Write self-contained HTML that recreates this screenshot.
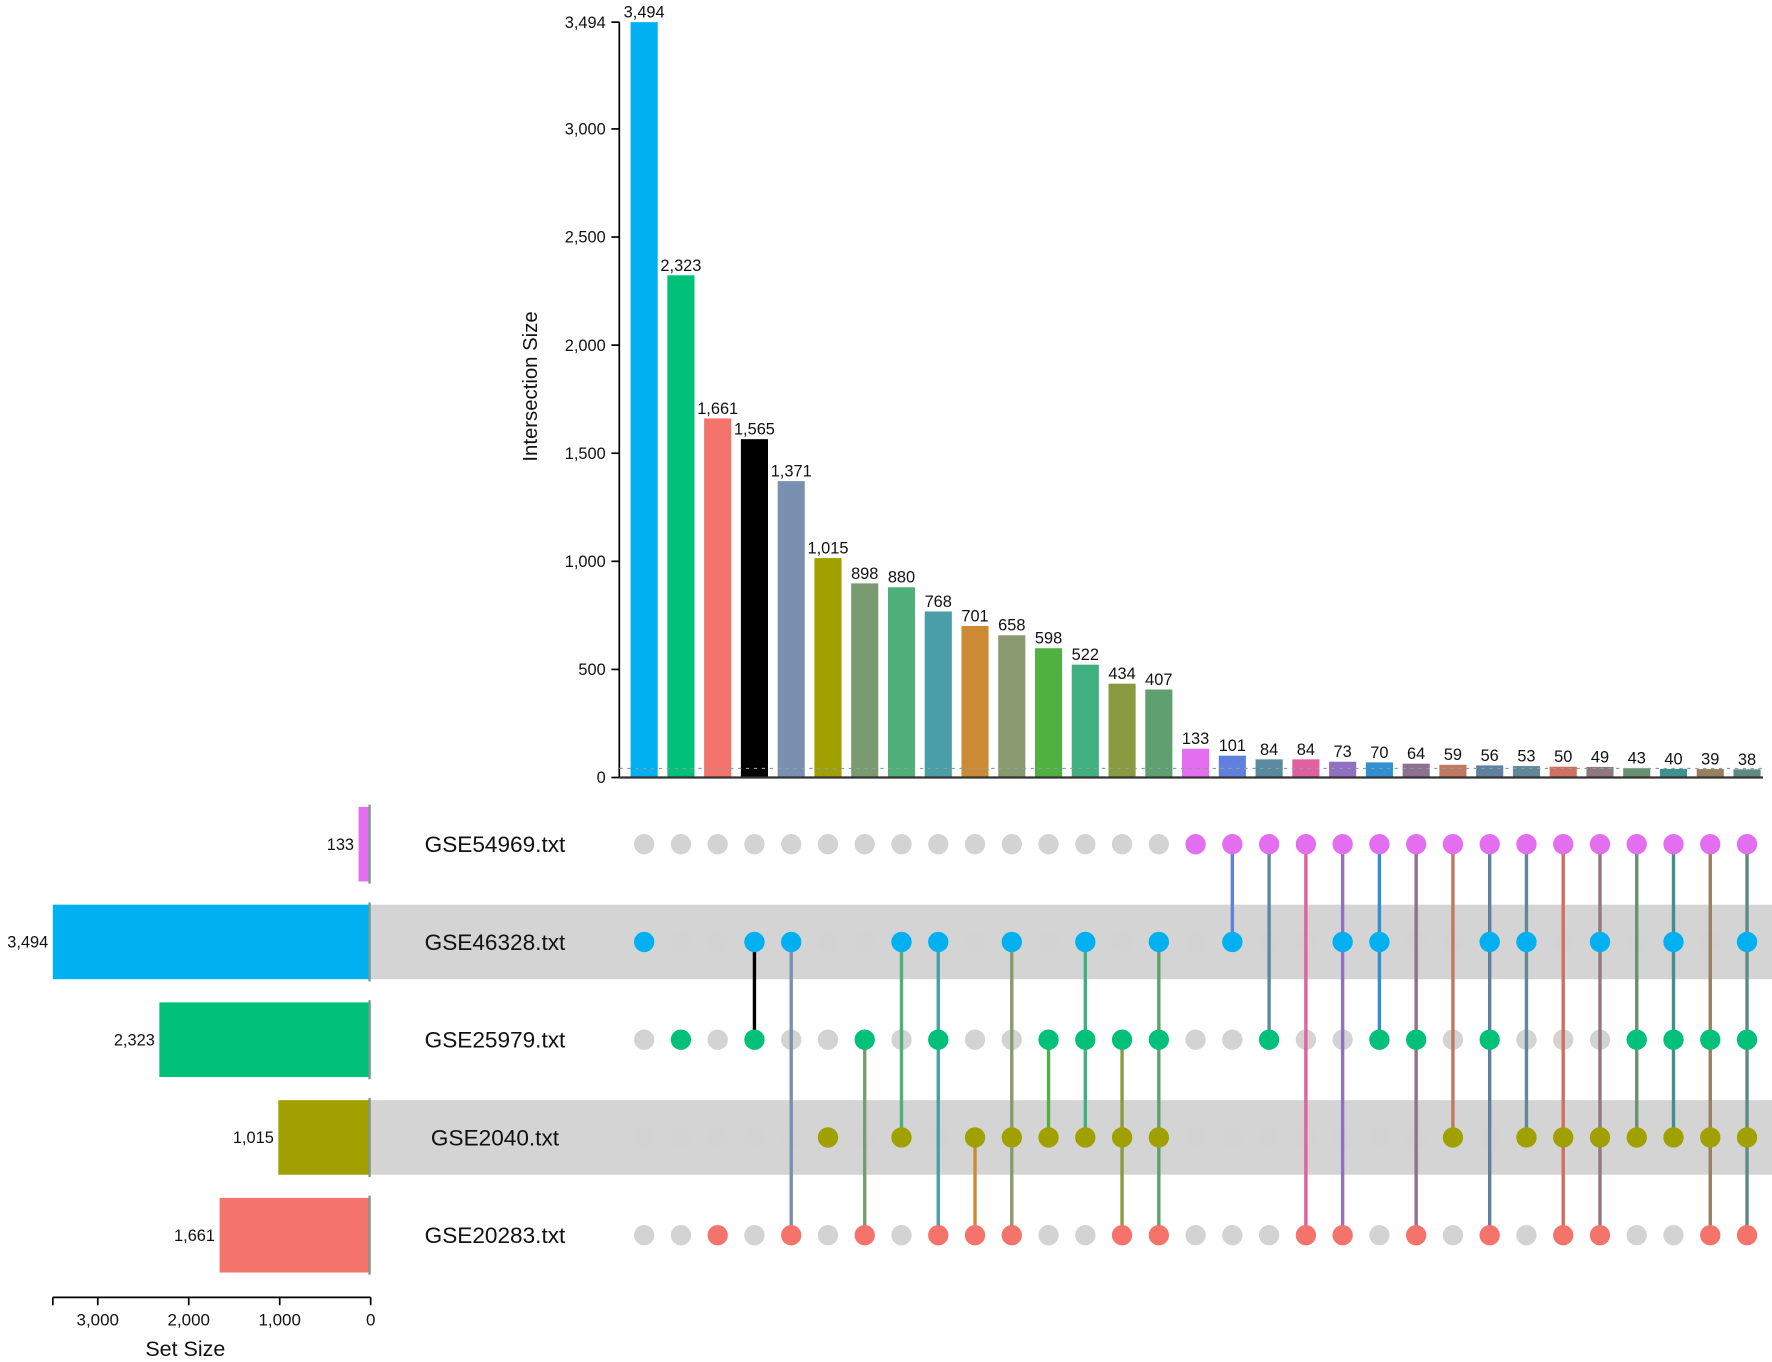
<!DOCTYPE html>
<html><head><meta charset="utf-8"><style>
html,body{margin:0;padding:0;background:#fff;}
svg{display:block;font-family:"Liberation Sans",Arial,sans-serif;}
</style></head><body>
<svg id="chart" width="1772" height="1362" viewBox="0 0 1568 1205.2" xmlns="http://www.w3.org/2000/svg"></svg>
<script>
const setNames = ["GSE54969.txt","GSE46328.txt","GSE25979.txt","GSE2040.txt","GSE20283.txt"];
const setSizes = [133,3494,2323,1015,1661];
const setColors = ["#e36ef0","#00b0f0","#00c07a","#a0a000","#f4736a"];
const interSizes = [3494,2323,1661,1565,1371,1015,898,880,768,701,658,598,522,434,407,133,101,84,84,73,70,64,59,56,53,50,49,43,40,39,38];
const interSets = [[1],[2],[4],[1,2],[1,4],[3],[2,4],[1,3],[1,2,4],[3,4],[1,3,4],[2,3],[1,2,3],[2,3,4],[1,2,3,4],
 [0],[0,1],[0,2],[0,4],[0,1,4],[0,1,2],[0,2,4],[0,3],[0,1,2,4],[0,1,3],[0,3,4],[0,1,3,4],[0,2,3],[0,1,2,3],[0,2,3,4],[0,1,2,3,4]];
const interColors = ["#00b0f0","#00c07a","#f4736a","#000000","#7a90b0","#a0a000","#7a9a70","#4fb07a","#4a9ea8","#cc8a35","#8a9a70","#50b040","#40b080","#8a9a40","#60a070",
 "#e36ef0","#6080e0","#5a8aa0","#e060a0","#9070c0","#3090d0","#907090","#c07860","#6080a0","#608898","#d07060","#907880","#6a9070","#409090","#958060","#608a80"];
const yTicks = [0,500,1000,1500,2000,2500,3000,3494];
const xTicks = [3000,2000,1000,0];

const svg = document.getElementById('chart');
const NS = "http://www.w3.org/2000/svg";
function mk(tag, attrs, parent){const e=document.createElementNS(NS,tag);for(const k in attrs)e.setAttribute(k,attrs[k]);(parent||svg).appendChild(e);return e;}
const fmt = v => v.toLocaleString('en-US');
const yScale = v => 688 - v*0.1913;
const xCol = i => 570 + i*32.53;
const rowY = r => 747 + r*86.5;
const xSet = v => 328 - v*0.0805;

[1,3].forEach(r=>{
  const b = mk('rect',{x:328,y:rowY(r)-33,width:1240,height:66,fill:'#d4d4d4'});
  
  
});

const ya = mk('line',{x1:548,y1:yScale(3494),x2:548,y2:688,stroke:'#000','stroke-width':1.5});


yTicks.forEach(t=>{
  const y=yScale(t);
  mk('line',{x1:541,y1:y,x2:548,y2:y,stroke:'#000','stroke-width':1.5});
  const tx=mk('text',{x:536,y:y+5,'text-anchor':'end','font-size':14.5,fill:'#111'});
  tx.textContent=fmt(t);
  
  
});
const yt = mk('text',{x:475,y:342,'text-anchor':'middle','font-size':18,fill:'#111',transform:'rotate(-90 475 342)'});
yt.textContent='Intersection Size';



interSizes.forEach((v,i)=>{
  const x=xCol(i), y=yScale(v);
  const r=mk('rect',{x:x-12,y:y,width:24,height:688-y,fill:interColors[i]});
  
  
  const t=mk('text',{x:x,y:y-4,'text-anchor':'middle','font-size':14.5,fill:'#111'});
  t.textContent=fmt(v);
  
  
});
mk('line',{x1:548,y1:680,x2:1560,y2:680,stroke:'#8aa0a0','stroke-width':1,'stroke-dasharray':'3,4'});
const xa = mk('line',{x1:548,y1:688,x2:1560,y2:688,stroke:'#333','stroke-width':2});



// empty dots first
interSets.forEach((sets,i)=>{
  const x=xCol(i);
  for(let r=0;r<5;r++){
    if(sets.includes(r)) continue;
    const c=mk('circle',{cx:x,cy:rowY(r),r:9,fill:'#d3d3d3'});
    
    
  }
});
// connectors
interSets.forEach((sets,i)=>{
  const x=xCol(i);
  const mn=Math.min(...sets), mx=Math.max(...sets);
  if(sets.length>1){
    const l=mk('line',{x1:x,y1:rowY(mn),x2:x,y2:rowY(mx),stroke:interColors[i],'stroke-width':3});
    
    
  }
});
// active dots
interSets.forEach((sets,i)=>{
  const x=xCol(i);
  sets.forEach(r=>{
    const c=mk('circle',{cx:x,cy:rowY(r),r:9,fill:setColors[r]});
    
    
  });
});

setNames.forEach((n,r)=>{
  const y=rowY(r), v=setSizes[r];
  const b=mk('rect',{x:xSet(v),y:y-33,width:328-xSet(v),height:66,fill:setColors[r]});
  
  
  mk('line',{x1:327,y1:y-35,x2:327,y2:y+35,stroke:'#7a9a90','stroke-width':2});
  const t=mk('text',{x:xSet(v)-4,y:y+5,'text-anchor':'end','font-size':14.5,fill:'#111'});
  t.textContent=fmt(v);
  
  
  const lab=mk('text',{x:438,y:y+7,'text-anchor':'middle','font-size':20,fill:'#111'});
  lab.textContent=n;
  
  
});

const sa=mk('line',{x1:xSet(3494),y1:1148,x2:328,y2:1148,stroke:'#000','stroke-width':1.5});


mk('line',{x1:xSet(3494),y1:1148,x2:xSet(3494),y2:1155,stroke:'#000','stroke-width':1.5});
xTicks.forEach(t=>{
  const x=xSet(t);
  mk('line',{x1:x,y1:1148,x2:x,y2:1155,stroke:'#000','stroke-width':1.5});
  const tx=mk('text',{x:x,y:1173,'text-anchor':'middle','font-size':15,fill:'#111'});
  tx.textContent=fmt(t);
  
  
});
const st=mk('text',{x:164,y:1200,'text-anchor':'middle','font-size':19,fill:'#111'});
st.textContent='Set Size';


</script>
</body></html>
